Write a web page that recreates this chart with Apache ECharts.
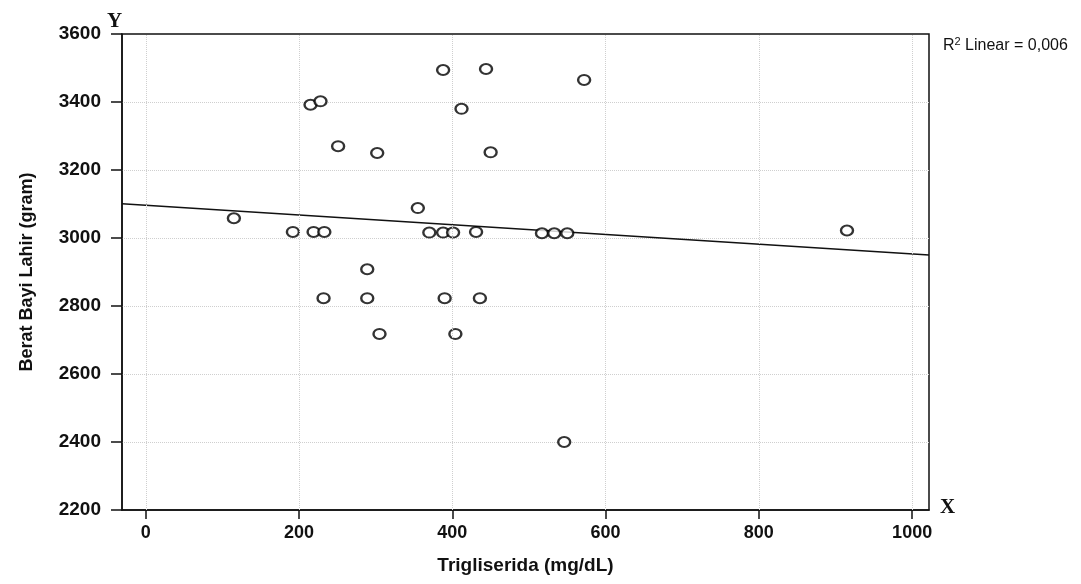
<!DOCTYPE html>
<html>
<head>
<meta charset="utf-8">
<script src="https://cdn.jsdelivr.net/npm/echarts@6/dist/echarts.min.js"></script>
<style>
  html, body { margin: 0; padding: 0; background: #fff; }
  #chart { width: 1081px; height: 584px; }
</style>
</head>
<body>
<div id="chart"></div>
<script>
// data
const trigliserida = [115, 192, 219, 233, 215, 228, 251, 302, 289, 232,
  289, 305, 355, 370, 388, 401, 388, 412, 390, 404,
  431, 436, 444, 450, 517, 533, 550, 546, 572, 915];
const beratBayi = [3058, 3018, 3018, 3018, 3392, 3402, 3270, 3250, 2908, 2823,
  2823, 2718, 3088, 3016, 3016, 3016, 3494, 3380, 2823, 2718,
  3018, 2823, 3497, 3252, 3014, 3014, 3014, 2400, 3465, 3022];

// fit line endpoints (R2 linear)
const fitX = [-31, 1022];
const fitY = [3101, 2950];

const xTicks = [0, 200, 400, 600, 800, 1000];
const xRange = [-31, 1022];
const yRange = [2200, 3600];
const rSquared = '0,006';

const points = trigliserida.map((x, i) => [x, beratBayi[i]]);
const fitLine = fitX.map((x, i) => [x, fitY[i]]);

const chart = echarts.init(document.getElementById('chart'));

const labelFont = {
  fontFamily: 'Liberation Sans',
  fontWeight: 'bold',
  fontSize: 18,
  color: '#111',
};
const gridLine = { color: '#cfcfcf', type: 'dotted', width: 1 };

const option = {
  backgroundColor: '#fff',
  animation: false,
  grid: {
    left: 122,
    right: 152,
    top: 34,
    bottom: 74,
    show: true,
    borderColor: '#111',
    borderWidth: 1.5,
  },
  xAxis: {
    type: 'value',
    min: xRange[0],
    max: xRange[1],
    name: 'Trigliserida (mg/dL)',
    nameLocation: 'middle',
    nameGap: 46,
    nameTextStyle: { ...labelFont, fontSize: 19 },
    axisLine: { show: true, onZero: false, lineStyle: { color: '#111', width: 1.5 } },
    axisTick: {
      show: true,
      length: 9,
      customValues: xTicks,
      lineStyle: { color: '#111', width: 1.5 },
    },
    axisLabel: { ...labelFont, margin: 14, customValues: xTicks, formatter: v => String(v) },
    splitLine: { show: false },
  },
  yAxis: {
    type: 'value',
    min: yRange[0],
    max: yRange[1],
    interval: 200,
    name: 'Berat Bayi Lahir (gram)',
    nameLocation: 'middle',
    nameGap: 86,
    nameTextStyle: { ...labelFont, fontSize: 18 },
    axisLine: { show: true, onZero: false, lineStyle: { color: '#111', width: 1.5 } },
    axisTick: { show: true, length: 11, lineStyle: { color: '#111', width: 1.5 } },
    axisLabel: { ...labelFont, fontSize: 19, margin: 21, formatter: v => String(v) },
    splitLine: { show: true, showMinLine: false, showMaxLine: false, lineStyle: gridLine },
  },
  series: [
    {
      name: 'fit',
      type: 'line',
      data: fitLine,
      showSymbol: false,
      z: 2,
      lineStyle: { color: '#111', width: 1.5 },
      markLine: {
        silent: true,
        symbol: 'none',
        label: { show: false },
        lineStyle: gridLine,
        data: xTicks.map(v => ({ xAxis: v })),
      },
    },
    {
      name: 'data',
      type: 'scatter',
      data: points,
      symbol: 'circle',
      symbolSize: [12, 10],
      z: 3,
      itemStyle: { color: '#fff', borderColor: '#000', borderWidth: 2.2 },
    },
  ],
  graphic: [
    {
      type: 'text',
      left: 107,
      top: 11,
      style: { text: 'Y', font: 'bold 21px "Liberation Serif"', fill: '#111' },
    },
    {
      type: 'text',
      left: 940,
      top: 497,
      style: { text: 'X', font: 'bold 21px "Liberation Serif"', fill: '#111' },
    },
    {
      type: 'text',
      left: 943,
      top: 36,
      style: {
        text: '{a|R}{s|2}{a| Linear = ' + rSquared + '}',
        rich: {
          a: { fontFamily: 'Liberation Sans', fontSize: 16, fill: '#111', verticalAlign: 'bottom' },
          s: { fontFamily: 'Liberation Sans', fontSize: 11, fill: '#111', verticalAlign: 'top', padding: [0, 0, 7, 0] },
        },
      },
    },
  ],
};

chart.setOption(option);
</script>
</body>
</html>
